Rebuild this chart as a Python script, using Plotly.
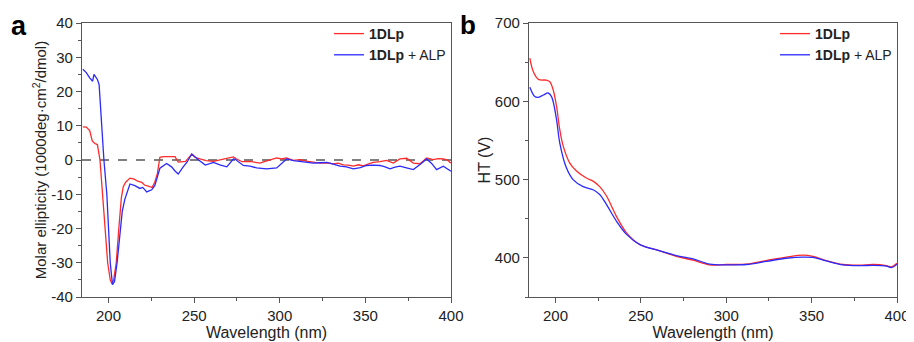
import plotly.graph_objects as go

# ---------------- data: panel a (CD) ----------------
cd_red_x = [185, 187, 189, 190.5, 192, 193.5, 195, 196.5, 198, 199.5, 201, 202, 203, 204.5, 206,
            207.5, 208.6, 210, 212.5, 215, 217, 219.4, 221, 222.3, 224, 225.5, 227, 228.5, 230,
            232, 235, 238.8, 240.7, 243, 245, 248.6, 250.5, 253.4, 257, 261.2, 264, 267.0, 270,
            272.9, 274.8, 278, 282.6, 285.5, 288.4, 291, 294.3, 298.2, 301, 304, 307.9, 311.8,
            315.5, 319.6, 323.5, 327.4, 331.2, 334, 337.1, 340, 343, 346, 348.8, 351.5, 354.6,
            358.5, 362.4, 366.3, 370.2, 374.1, 378, 381.9, 385.8, 389.6, 392.5, 395.5, 398, 399.4, 400]
cd_red_y = [9.7, 9.6, 8.6, 5.6, 4.8, 4.5, 0, -10, -20, -30, -35, -36.1, -35, -30, -20,
            -11, -7.8, -6.5, -5.3, -5.6, -6.2, -6.5, -7.3, -7.6, -7.8, -8.0, -6.5, -4, 0.8,
            1.0, 1.0, 1.0, -0.6, -0.5, -0.4, 1.7, 0.8, 0.3, -0.2, -0.4, -0.1, 0.3, 0.4,
            0.9, 0.3, -0.5, -0.4, -0.6, -0.9, -0.5, 0.1, 0.6, 0.3, 0.6, -0.1, 0.1,
            -0.3, -0.7, -0.9, -0.8, -1.1, -0.9, -1.4, -1.5, -1.8, -1.4, -1.7, -1.2, -0.7,
            -0.5, -0.1, -0.9, 0.3, 0.5, -0.9, -1.1, 0.6, 0.1, 0.4, 0.3, 0.0, -0.7, -0.9]

cd_blue_x = [185, 187, 189, 190.7, 191.5, 193.5, 194.5, 196, 197.3, 199, 200, 201, 202.3, 203.5,
             205, 206.5, 208, 209.5, 210.6, 212.5, 215.4, 218.3, 220, 222.3, 225.2, 227, 228.5,
             230, 233.9, 236.8, 238.8, 240.7, 243.6, 246, 248.6, 250.5, 252.6, 256.5, 261.3,
             265, 269.1, 272.9, 274, 278.7, 282.6, 286.5, 292.3, 298.2, 302, 304, 308,
             311.8, 315.7, 319.6, 323.5, 327.4, 331.2, 335.2, 339, 343, 347, 350.7, 354.6,
             358.5, 361.5, 364.4, 367.3, 370.2, 374, 378, 381.9, 385.8, 388.7, 391.6, 395.5, 400]
cd_blue_y = [26.5, 25.5, 24, 23, 25, 23.5, 22, 10, 0, -10, -20, -30, -36.4, -35.5,
             -30, -22, -15, -11.5, -9.7, -7.0, -7.5, -8.3, -8.0, -9.3, -8.7, -7.5, -5,
             -2.4, -1.0, -2.0, -3.2, -4.1, -2.0, -0.5, 1.75, 0.8, 0.0, -1.5, -0.7,
             -1.4, -2.0, 0.3, 0.2, -1.6, -1.8, -2.3, -2.6, -2.3, -0.4, 0.3, -0.2,
             -0.4, -0.6, -0.9, -0.8, -0.7, -1.2, -1.8, -2.0, -2.6, -2.2, -1.6, -1.5,
             -1.6, -2.0, -2.6, -2.1, -1.8, -2.3, -2.8, -1.3, 0.3, -1.0, -2.8, -1.8, -3.3]

cd_tick_vals = [-40, -30, -20, -10, 0, 10, 20, 30, 40]
cd_tick_text = ["-40", "-30", "-20", "-10", "0", "10", "20", "30", "40"]

# ---------------- data: panel b (HT) ----------------
ht_red_x = [185, 187, 190, 194.7, 196.7, 198.6, 200.6, 202.5, 204.5, 208.4, 212.3, 218.1, 222,
            225.9, 229.9, 235.7, 241.6, 249.4, 261.1, 270.8, 280.6, 290.3, 300, 311.8, 323.5,
            335.2, 345, 350.8, 358.6, 368.4, 378.1, 386, 393.8, 396.7, 400]
ht_red_y = [655, 638, 628, 627, 625, 615, 594, 564, 543, 521, 511, 502, 498,
            491, 479, 453, 432, 417, 409, 402, 397, 391, 391.5, 392, 396.6,
            401, 403.5, 402, 396.6, 391.5, 390.6, 391.5, 390, 388.5, 393]

ht_blue_x = [185, 187.9, 189.9, 193, 195.7, 197.7, 200.6, 202.5, 206.4, 210.3, 216.2, 222,
             225.9, 229.9, 235.7, 241.6, 249.4, 261.1, 270.8, 280.6, 290.3, 300, 311.8, 323.5,
             335.2, 345, 350.8, 358.6, 368.4, 378.1, 386, 393.8, 396.7, 400]
ht_blue_y = [618, 606, 605, 608, 610.6, 606, 577, 547, 515, 500, 491, 487,
             481, 468, 447, 430, 417, 409, 403, 398.7, 392, 391, 391.5, 395.5,
             399.5, 401, 400.5, 396, 391, 390, 390.5, 389.5, 387.5, 392]

series_names = ["<b>1DLp</b>", "<b>1DLp</b> + ALP"]
colors = ["#FF2A2A", "#2A2AFF"]

FONT = "Arial, 'Liberation Sans', sans-serif"

fig = go.Figure()
fig.add_trace(go.Scatter(x=cd_red_x, y=cd_red_y, mode="lines", name=series_names[0],
                         line=dict(color=colors[0], width=1.3), xaxis="x", yaxis="y", legend="legend"))
fig.add_trace(go.Scatter(x=cd_blue_x, y=cd_blue_y, mode="lines", name=series_names[1],
                         line=dict(color=colors[1], width=1.3), xaxis="x", yaxis="y", legend="legend"))
fig.add_trace(go.Scatter(x=ht_red_x, y=ht_red_y, mode="lines", name=series_names[0], line_shape="spline",
                         line=dict(color=colors[0], width=1.3), xaxis="x2", yaxis="y2", legend="legend2"))
fig.add_trace(go.Scatter(x=ht_blue_x, y=ht_blue_y, mode="lines", name=series_names[1], line_shape="spline",
                         line=dict(color=colors[1], width=1.3), xaxis="x2", yaxis="y2", legend="legend2"))

axis_common = dict(showline=True, mirror=True, linecolor="#555555", linewidth=1.2,
                   ticks="outside", ticklen=5, tickcolor="#555555", showgrid=False, zeroline=False,
                   automargin=False,
                   tickfont=dict(family=FONT, size=15, color="#222222"))

# page body adds an 8px offset; figure is sized so it fits inside the window
OFF = 8
FW, FH = 914 - OFF, 342 - OFF


def fx(px):
    return (px - OFF) / FW


def fy(py):
    return 1 - (py - OFF) / FH


ytop, ybot = fy(23), fy(297)

fig.update_layout(
    width=FW, height=FH,
    margin=dict(l=0, r=0, t=0, b=0, autoexpand=False),
    paper_bgcolor="white", plot_bgcolor="white",
    font=dict(family=FONT, size=15, color="#222222"),
    xaxis=dict(domain=[fx(82), fx(451)], range=[184.5, 400], dtick=50, tick0=0,
               minor=dict(ticks="outside", ticklen=3, dtick=25, tickcolor="#555555"),
               title=dict(text="Wavelength (nm)", standoff=0, font=dict(size=16)),
               anchor="y", **axis_common),
    yaxis=dict(domain=[ybot, ytop], range=[-40, 40], tickmode="array",
               tickvals=cd_tick_vals, ticktext=cd_tick_text,
               minor=dict(ticks="outside", ticklen=3, dtick=5, tick0=0, tickcolor="#555555"),
               title=dict(text="Molar ellipticity (1000deg·cm<sup>2</sup>/dmol)", standoff=0, font=dict(size=15)),
               anchor="x", **axis_common),
    xaxis2=dict(domain=[fx(529), fx(897)], range=[184.5, 400], dtick=50, tick0=0,
                minor=dict(ticks="outside", ticklen=3, dtick=25, tickcolor="#555555"),
                title=dict(text="Wavelength (nm)", standoff=0, font=dict(size=16)),
                anchor="y2", **axis_common),
    yaxis2=dict(domain=[ybot, ytop], range=[350, 700], dtick=100, tick0=0,
                minor=dict(ticks="outside", ticklen=3, dtick=50, tickcolor="#555555"),
                title=dict(text="HT (V)", standoff=0, font=dict(size=16)),
                anchor="x2", **axis_common),
    legend=dict(x=fx(451), xanchor="right", y=fy(18), yanchor="top", bgcolor="rgba(0,0,0,0)",
                font=dict(family=FONT, size=14, color="#222222"), tracegroupgap=0, itemwidth=30),
    legend2=dict(x=fx(897), xanchor="right", y=fy(18), yanchor="top", bgcolor="rgba(0,0,0,0)",
                 font=dict(family=FONT, size=14, color="#222222"), tracegroupgap=0, itemwidth=30),
    showlegend=True,
)

fig.add_shape(type="line", xref="x", yref="y", x0=184.5, x1=400, y0=0, y1=0,
              line=dict(color="black", width=1.2, dash="dash"), layer="below")

fig.add_annotation(text="<b>a</b>", x=fx(9), y=fy(26), xref="paper", yref="paper",
                   xanchor="left", yanchor="middle", showarrow=False,
                   font=dict(family=FONT, size=27, color="black"))
fig.add_annotation(text="<b>b</b>", x=fx(458), y=fy(25), xref="paper", yref="paper",
                   xanchor="left", yanchor="middle", showarrow=False,
                   font=dict(family=FONT, size=26, color="black"))

fig.write_html("out.html")
